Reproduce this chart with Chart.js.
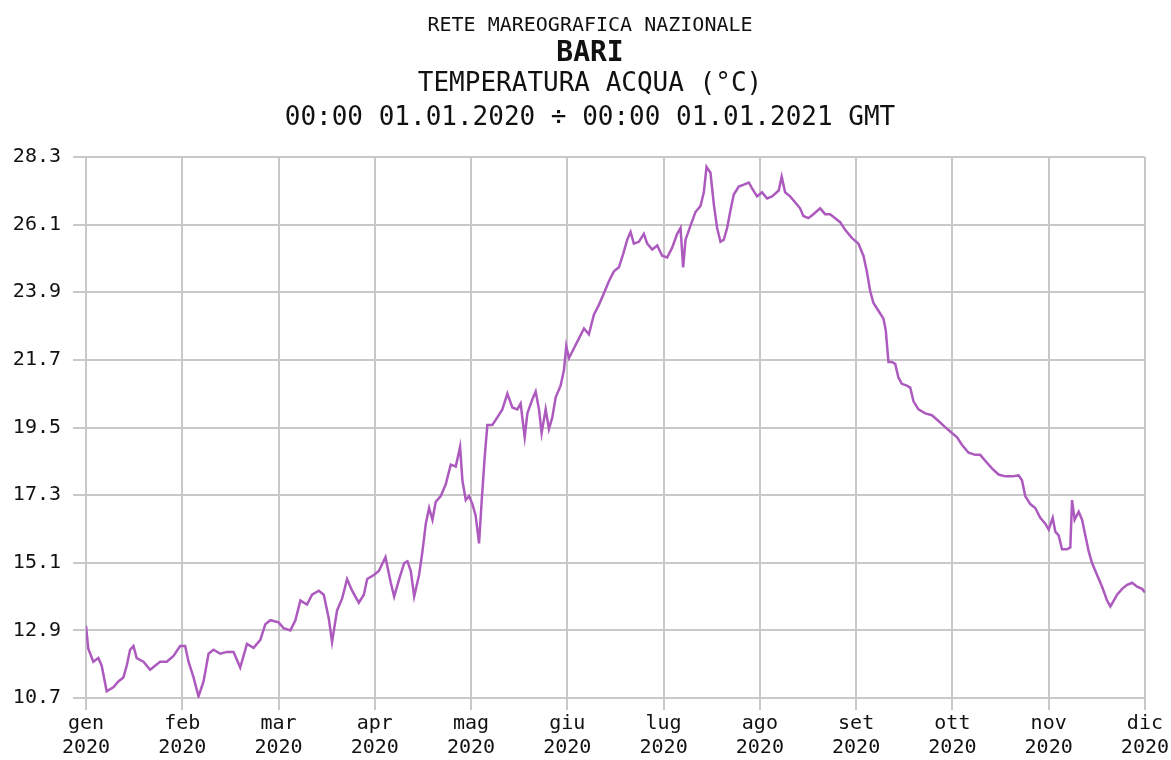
<!DOCTYPE html>
<html>
<head>
<meta charset="utf-8">
<script src="https://cdn.jsdelivr.net/npm/chart.js@4/dist/chart.umd.min.js"></script>
<style>
    html, body { margin: 0; padding: 0; background: #fff; }
    #wrap { position: relative; width: 1171px; height: 760px; }
    .ttl { position: absolute; left: 0; width: 1180px; text-align: center; color: #111;
           font-family: "DejaVu Sans Mono", monospace; white-space: pre; line-height: 1; }
    #t1 { top: 14px; font-size: 20px; }
    #t2 { top: 38px; font-size: 28px; font-weight: bold; }
    #t3 { top: 69px; font-size: 26px; }
    #t4 { top: 103px; font-size: 26px; }
    canvas { position: absolute; left: 0; top: 0; }
</style>
</head>
<body>
<div id="wrap">
    <canvas id="chartTemp" width="1171" height="760"></canvas>
    <div class="ttl" id="t1">RETE MAREOGRAFICA NAZIONALE</div>
    <div class="ttl" id="t2">BARI</div>
    <div class="ttl" id="t3">TEMPERATURA ACQUA (°C)</div>
    <div class="ttl" id="t4">00:00 01.01.2020 ÷ 00:00 01.01.2021 GMT</div>
</div>
<script>
// month labels on the x axis (0 = gen ... 11 = dic)
var monthLabels = ['gen', 'feb', 'mar', 'apr', 'mag', 'giu', 'lug', 'ago', 'set', 'ott', 'nov', 'dic'];
var yearLabel = '2020';
var yTicks = [10.7, 12.9, 15.1, 17.3, 19.5, 21.7, 23.9, 26.1, 28.3];

// position along the year, in months from 1 January
var monthPos = [
    0.000, 0.024, 0.076, 0.128, 0.163, 0.215, 0.284, 0.336, 0.388, 0.423,
    0.458, 0.493, 0.527, 0.597, 0.666, 0.718, 0.770, 0.839, 0.909, 0.978,
    1.030, 1.065, 1.117, 1.169, 1.221, 1.273, 1.325, 1.394, 1.464, 1.533,
    1.602, 1.672, 1.741, 1.811, 1.863, 1.915, 2.001, 2.053, 2.123, 2.175,
    2.227, 2.296, 2.348, 2.418, 2.470, 2.522, 2.556, 2.608, 2.660, 2.712,
    2.764, 2.834, 2.886, 2.921, 2.990, 3.042, 3.111,
    3.166, 3.201, 3.253, 3.305, 3.339, 3.374, 3.409, 3.460, 3.495, 3.530,
    3.564, 3.599, 3.633, 3.685, 3.737, 3.789, 3.841, 3.886, 3.910, 3.945,
    3.979, 4.014, 4.048, 4.083, 4.111, 4.142, 4.169, 4.221, 4.273, 4.325,
    4.377, 4.429, 4.481, 4.515, 4.557, 4.585, 4.636, 4.671, 4.706, 4.733,
    4.775, 4.809, 4.844, 4.879, 4.930, 4.965, 4.989, 5.017, 5.069, 5.121,
    5.173, 5.224, 5.276, 5.328, 5.380, 5.432, 5.484, 5.536, 5.581, 5.622,
    5.657, 5.691, 5.743, 5.795, 5.830, 5.882, 5.934, 5.985, 6.037, 6.089,
    6.141, 6.176, 6.203, 6.228, 6.279, 6.331, 6.383, 6.418, 6.446, 6.487,
    6.522, 6.556, 6.591, 6.625, 6.660, 6.695, 6.729, 6.781, 6.833, 6.885,
    6.919, 6.971, 7.023, 7.075, 7.127, 7.196,
    7.227, 7.262, 7.314, 7.366, 7.418, 7.452, 7.504, 7.556, 7.626, 7.678,
    7.730, 7.782, 7.834, 7.886, 7.955, 8.024, 8.076, 8.111, 8.146, 8.180,
    8.232, 8.284, 8.308, 8.336, 8.371, 8.406, 8.440, 8.475, 8.527, 8.562,
    8.596, 8.648, 8.718, 8.787, 8.856, 8.925, 8.995, 9.047, 9.099, 9.168,
    9.237, 9.289, 9.341, 9.411, 9.480, 9.549, 9.619, 9.688, 9.723, 9.757,
    9.809, 9.861, 9.913, 9.965, 10.000, 10.042, 10.069, 10.104, 10.139, 10.191,
    10.225, 10.243, 10.270, 10.312, 10.347, 10.381, 10.416, 10.451, 10.503, 10.555,
    10.607, 10.641, 10.676, 10.711, 10.763, 10.815, 10.867, 10.919, 10.971, 11.000
];

// water temperature, degrees C
var tempValues = [
    13.05, 12.30, 11.88, 12.00, 11.75, 10.92, 11.05, 11.24, 11.37, 11.75,
    12.27, 12.39, 12.00, 11.88, 11.62, 11.75, 11.88, 11.88, 12.07, 12.39,
    12.39, 11.88, 11.37, 10.75, 11.24, 12.14, 12.27, 12.14, 12.20, 12.20,
    11.69, 12.46, 12.33, 12.59, 13.10, 13.23, 13.16, 12.97, 12.90, 13.23,
    13.87, 13.74, 14.06, 14.19, 14.06, 13.29, 12.52, 13.55, 13.93, 14.57,
    14.19, 13.80, 14.06, 14.57, 14.70, 14.83, 15.28,
    14.45, 14.00, 14.57, 15.09, 15.15, 14.83, 14.00, 14.70, 15.47, 16.37,
    16.88, 16.50, 17.08, 17.27, 17.65, 18.29, 18.23, 18.87, 17.78, 17.14,
    17.27, 17.01, 16.63, 15.73, 17.14, 18.55, 19.58, 19.58, 19.83, 20.09,
    20.60, 20.15, 20.09, 20.28, 19.19, 19.96, 20.41, 20.67, 20.09, 19.32,
    20.09, 19.45, 19.83, 20.48, 20.86, 21.37, 22.14, 21.76, 22.08, 22.40,
    22.72, 22.53, 23.17, 23.49, 23.87, 24.26, 24.58, 24.71, 25.16, 25.61,
    25.86, 25.48, 25.54, 25.80, 25.48, 25.29, 25.42, 25.09, 25.03, 25.35,
    25.80, 25.99, 24.71, 25.61, 26.06, 26.51, 26.70, 27.15, 27.98, 27.79,
    26.76, 25.99, 25.54, 25.61, 25.99, 26.57, 27.08, 27.34, 27.40, 27.47,
    27.28, 27.02, 27.15, 26.95, 27.02, 27.21,
    27.66, 27.15, 27.02, 26.83, 26.63, 26.38, 26.31, 26.44, 26.63, 26.44,
    26.44, 26.31, 26.18, 25.93, 25.67, 25.48, 25.09, 24.58, 23.94, 23.55,
    23.30, 23.04, 22.66, 21.63, 21.63, 21.57, 21.12, 20.92, 20.86, 20.80,
    20.35, 20.09, 19.96, 19.90, 19.71, 19.51, 19.32, 19.19, 18.94, 18.68,
    18.61, 18.61, 18.42, 18.17, 17.97, 17.91, 17.91, 17.94, 17.78, 17.27,
    17.01, 16.88, 16.56, 16.37, 16.18, 16.56, 16.11, 15.99, 15.54, 15.54,
    15.60, 17.14, 16.50, 16.76, 16.50, 15.99, 15.47, 15.09, 14.70, 14.32,
    13.87, 13.68, 13.87, 14.06, 14.25, 14.38, 14.45, 14.32, 14.25, 14.13
];

var points = monthPos.map(function (m, i) { return { x: m, y: tempValues[i] }; });
var tickFont = { family: '"DejaVu Sans Mono", monospace', size: 20 };
var gridColor = '#c8c8c8';

new Chart(document.getElementById('chartTemp'), {
    type: 'line',
    data: {
        datasets: [{
            data: points,
            borderColor: '#ad5abf',
            borderWidth: 2.5,
            pointRadius: 0,
            tension: 0,
            fill: false
        }]
    },
    options: {
        responsive: false,
        animation: false,
        events: [],
        layout: { padding: { top: 157, right: 25, bottom: 0, left: 0 } },
        plugins: { legend: { display: false }, title: { display: false }, tooltip: { enabled: false } },
        scales: {
            x: {
                type: 'linear',
                min: 0,
                max: monthLabels.length - 1,
                afterBuildTicks: function (axis) {
                    axis.ticks = monthLabels.map(function (l, i) { return { value: i }; });
                },
                afterFit: function (axis) { axis.height = 62; },
                grid: { color: gridColor, lineWidth: 2, tickLength: 12 },
                border: { display: false },
                ticks: {
                    color: '#111',
                    font: tickFont,
                    padding: 2,
                    maxRotation: 0,
                    autoSkip: false,
                    callback: function (v) { return [monthLabels[v], yearLabel]; }
                }
            },
            y: {
                min: yTicks[0],
                max: yTicks[yTicks.length - 1],
                afterBuildTicks: function (axis) {
                    axis.ticks = yTicks.map(function (v) { return { value: v }; });
                },
                afterFit: function (axis) { axis.width = 86; },
                grid: { color: gridColor, lineWidth: 2, tickLength: 13 },
                border: { display: false },
                ticks: {
                    color: '#111',
                    font: tickFont,
                    padding: 12,
                    autoSkip: false,
                    callback: function (v) { return v.toFixed(1); }
                }
            }
        }
    }
});
</script>
</body>
</html>
